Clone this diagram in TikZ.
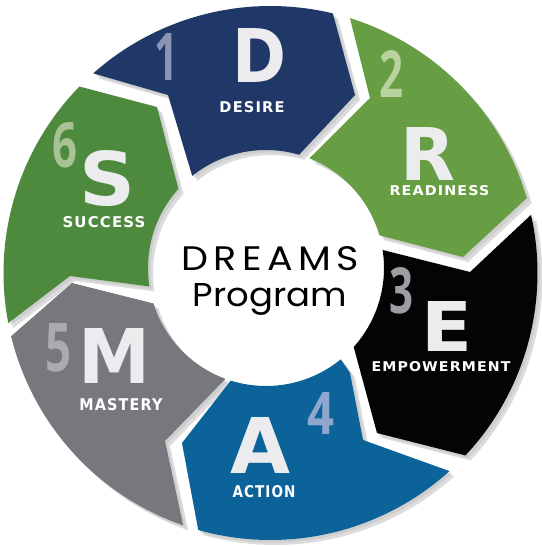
\documentclass[tikz,border=0pt]{standalone}
\usepackage{fontspec}
\usepackage{graphicx}
\setmainfont{DejaVu Sans}
\newfontfamily\centerfont{Poppins}
\newfontfamily\centerfontls[LetterSpace=14]{Poppins}
\newfontfamily\labfont[LetterSpace=8]{DejaVu Sans}
\newfontfamily\numfont{Open Sans}
\usetikzlibrary{calc}
\definecolor{colD}{RGB}{31,56,104}
\definecolor{colR}{RGB}{104,158,67}
\definecolor{colE}{RGB}{4,4,4}
\definecolor{colA}{RGB}{11,99,153}
\definecolor{colM}{RGB}{119,120,125}
\definecolor{colS}{RGB}{77,138,61}
\definecolor{numD}{RGB}{140,147,180}
\definecolor{numR}{RGB}{184,211,160}
\definecolor{numE}{RGB}{156,158,163}
\definecolor{numA}{RGB}{143,167,207}
\definecolor{numM}{RGB}{171,171,175}
\definecolor{numS}{RGB}{167,194,148}
\definecolor{lettercol}{RGB}{236,236,238}
\tikzset{
  shadowA/.style={fill=black!30, opacity=0.45, shift={(5,5)}},
  shadowB/.style={fill=black!25, opacity=0.45, shift={(2.5,2.5)}},
  bigletter/.style={anchor=base, inner sep=0pt, text=lettercol},
  numeral/.style={anchor=base, inner sep=0pt},
  seglabel/.style={anchor=base, inner sep=0pt, text=white},
  centertext/.style={anchor=base, inner sep=0pt, text=black}
}
\begin{document}
\begin{tikzpicture}[x=1pt,y=-1pt]
\useasboundingbox (0,0) rectangle (541,546);
\fill[white] (0,0) rectangle (541,546);
% outer circle: centre (270.5,273) r 267 ; inner circle: centre (266,268) r 118
% shadows
\foreach \sh in {shadowA,shadowB}{
\fill[\sh] plot[domain=228.4:283.5,samples=40,variable=\t] ({270.5+267*cos(\t)},{273+267*sin(\t)}) -- (355,95) -- plot[domain=286.3:231.3,samples=40,variable=\t] ({266+118*cos(\t)},{268+118*sin(\t)}) -- (168,95) -- cycle;
\fill[\sh] plot[domain=287.3:343.7,samples=40,variable=\t] ({270.5+267*cos(\t)},{273+267*sin(\t)}) -- (463,257) -- plot[domain=343.9:291.6,samples=40,variable=\t] ({266+118*cos(\t)},{268+118*sin(\t)}) -- (370,98) -- cycle;
\fill[\sh] plot[domain=-12.6:43.1,samples=40,variable=\t] ({270.5+267*cos(\t)},{273+267*sin(\t)}) -- (377,433) -- plot[domain=42.0:-8.8,samples=40,variable=\t] ({266+118*cos(\t)},{268+118*sin(\t)}) -- (470,272) -- cycle;
\fill[\sh] plot[domain=47.9:105.7,samples=40,variable=\t] ({270.5+267*cos(\t)},{273+267*sin(\t)}) -- (182,443) -- plot[domain=107.4:50.7,samples=40,variable=\t] ({266+118*cos(\t)},{268+118*sin(\t)}) -- (350,373) -- (363,440) -- cycle;
\fill[\sh] plot[domain=109.1:166.3,samples=40,variable=\t] ({270.5+267*cos(\t)},{273+267*sin(\t)}) -- (72,283) -- plot[domain=162.5:110.1,samples=40,variable=\t] ({266+118*cos(\t)},{268+118*sin(\t)}) -- (165,441) -- cycle;
\fill[\sh] plot[domain=169.2:224.3,samples=40,variable=\t] ({270.5+267*cos(\t)},{273+267*sin(\t)}) -- (157,107) -- plot[domain=222.1:171,samples=40,variable=\t] ({266+118*cos(\t)},{268+118*sin(\t)}) -- (70,276) -- cycle;
}
% segments
\fill[colD] plot[domain=228.4:283.5,samples=40,variable=\t] ({270.5+267*cos(\t)},{273+267*sin(\t)}) -- (355,95) -- plot[domain=286.3:231.3,samples=40,variable=\t] ({266+118*cos(\t)},{268+118*sin(\t)}) -- (168,95) -- cycle;
\fill[colR] plot[domain=287.3:343.7,samples=40,variable=\t] ({270.5+267*cos(\t)},{273+267*sin(\t)}) -- (463,257) -- plot[domain=343.9:291.6,samples=40,variable=\t] ({266+118*cos(\t)},{268+118*sin(\t)}) -- (370,98) -- cycle;
\fill[colE] plot[domain=-12.6:43.1,samples=40,variable=\t] ({270.5+267*cos(\t)},{273+267*sin(\t)}) -- (377,433) -- plot[domain=42.0:-8.8,samples=40,variable=\t] ({266+118*cos(\t)},{268+118*sin(\t)}) -- (470,272) -- cycle;
\fill[colA] plot[domain=47.9:105.7,samples=40,variable=\t] ({270.5+267*cos(\t)},{273+267*sin(\t)}) -- (182,443) -- plot[domain=107.4:50.7,samples=40,variable=\t] ({266+118*cos(\t)},{268+118*sin(\t)}) -- (350,373) -- (363,440) -- cycle;
\fill[colM] plot[domain=109.1:166.3,samples=40,variable=\t] ({270.5+267*cos(\t)},{273+267*sin(\t)}) -- (72,283) -- plot[domain=162.5:110.1,samples=40,variable=\t] ({266+118*cos(\t)},{268+118*sin(\t)}) -- (165,441) -- cycle;
\fill[colS] plot[domain=169.2:224.3,samples=40,variable=\t] ({270.5+267*cos(\t)},{273+267*sin(\t)}) -- (157,107) -- plot[domain=222.1:171,samples=40,variable=\t] ({266+118*cos(\t)},{268+118*sin(\t)}) -- (70,276) -- cycle;
% numerals
\node[numeral, text=numD] (n1) at (166.5,80) {\resizebox{24pt}{47pt}{\numfont\bfseries 1}};
\node[numeral, text=numR] (n2) at (391,97) {\resizebox{24pt}{47pt}{\numfont\bfseries 2}};
\node[numeral, text=numE] (n3) at (401,313) {\resizebox{24pt}{46pt}{\numfont\bfseries 3}};
\node[numeral, text=numA] (n4) at (321,434) {\resizebox{27pt}{42pt}{\numfont\bfseries 4}};
\node[numeral, text=numM] (n5) at (59,371) {\resizebox{26pt}{48pt}{\numfont\bfseries 5}};
\node[numeral, text=numS] (n6) at (65,167) {\resizebox{25pt}{45pt}{\numfont\bfseries 6}};
% big letters
\node[bigletter] (lD) at (259,82) {\resizebox{54pt}{54pt}{\bfseries D}};
\node[bigletter] (lR) at (427.5,180) {\resizebox{55pt}{53pt}{\bfseries R}};
\node[bigletter] (lE) at (447.5,351) {\resizebox{51pt}{50pt}{\bfseries E}};
\node[bigletter] (lA) at (261,473) {\resizebox{60pt}{56pt}{\bfseries A}};
\node[bigletter] (lM) at (115,383) {\resizebox{72pt}{55pt}{\bfseries M}};
\node[bigletter] (lS) at (108,205) {\resizebox{56pt}{55pt}{\bfseries S}};
% labels
\node[seglabel] (tD) at (252,112) {\resizebox{65pt}{11pt}{\labfont\bfseries DESIRE}};
\node[seglabel] (tR) at (439.5,195) {\resizebox{100pt}{10pt}{\labfont\bfseries READINESS}};
\node[seglabel] (tE) at (441,371) {\resizebox{139pt}{10pt}{\labfont\bfseries EMPOWERMENT}};
\node[seglabel] (tA) at (264,497) {\resizebox{63pt}{12pt}{\labfont\bfseries ACTION}};
\node[seglabel] (tM) at (121,410) {\resizebox{83pt}{12pt}{\labfont\bfseries MASTERY}};
\node[seglabel] (tS) at (104,227) {\resizebox{83pt}{11pt}{\labfont\bfseries SUCCESS}};
% centre
\node[centertext] (c1) at (270,270) {\resizebox{177pt}{24pt}{\centerfontls DREAMS}};
\node[centertext] (c2) at (270,306) {\resizebox{154pt}{23pt}{\centerfont Program}};
\end{tikzpicture}
\end{document}
